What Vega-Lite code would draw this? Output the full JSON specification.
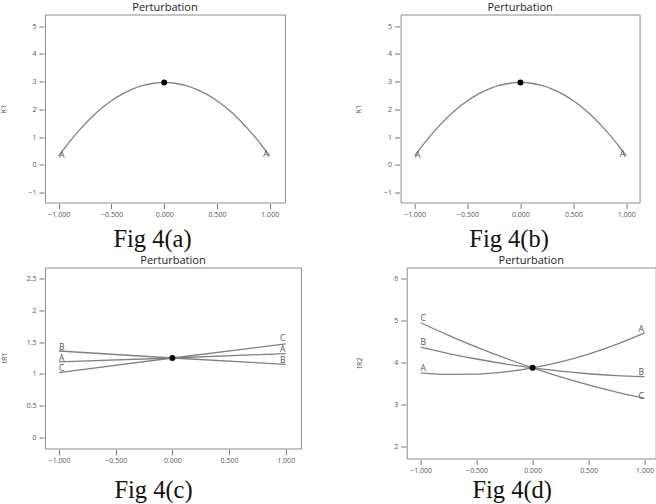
{
  "$schema": "https://vega.github.io/schema/vega-lite/v6.json",
  "padding": {"left": -2, "top": 0.5, "right": 0, "bottom": 0},
  "background": "white",
  "datasets": {
    "k1": [
      {"x": -1, "y": 0.32}, {"x": -0.9, "y": 0.82}, {"x": -0.8, "y": 1.27}, {"x": -0.7, "y": 1.67},
      {"x": -0.6, "y": 2.02}, {"x": -0.5, "y": 2.31}, {"x": -0.4, "y": 2.55}, {"x": -0.3, "y": 2.73},
      {"x": -0.2, "y": 2.86}, {"x": -0.1, "y": 2.94}, {"x": 0, "y": 2.97}, {"x": 0.1, "y": 2.94},
      {"x": 0.2, "y": 2.86}, {"x": 0.3, "y": 2.73}, {"x": 0.4, "y": 2.55}, {"x": 0.5, "y": 2.31},
      {"x": 0.6, "y": 2.02}, {"x": 0.7, "y": 1.67}, {"x": 0.8, "y": 1.27}, {"x": 0.9, "y": 0.82},
      {"x": 1, "y": 0.32}
    ],
    "k1dot": [{"x": 0, "y": 2.97}],
    "k1lab": [{"x": -0.97, "y": 0.35, "label": "A"}, {"x": 0.965, "y": 0.4, "label": "A"}],
    "c": [
      {"x": -1, "y": 1.19, "series": "A"}, {"x": 0, "y": 1.25, "series": "A"}, {"x": 1, "y": 1.32, "series": "A"},
      {"x": -1, "y": 1.36, "series": "B"}, {"x": 0, "y": 1.25, "series": "B"}, {"x": 1, "y": 1.15, "series": "B"},
      {"x": -1, "y": 1.02, "series": "C"}, {"x": 0, "y": 1.25, "series": "C"}, {"x": 1, "y": 1.47, "series": "C"}
    ],
    "cdot": [{"x": 0, "y": 1.25}],
    "clab": [
      {"x": -0.976, "y": 1.42, "label": "B"}, {"x": -0.976, "y": 1.245, "label": "A"}, {"x": -0.976, "y": 1.09, "label": "C"},
      {"x": 0.974, "y": 1.56, "label": "C"}, {"x": 0.974, "y": 1.395, "label": "A"}, {"x": 0.974, "y": 1.22, "label": "B"}
    ],
    "d": [
      {"x": -1, "y": 3.75, "series": "A"}, {"x": -0.75, "y": 3.714, "series": "A"}, {"x": -0.5, "y": 3.72, "series": "A"},
      {"x": -0.25, "y": 3.773, "series": "A"}, {"x": 0, "y": 3.87, "series": "A"}, {"x": 0.25, "y": 4.011, "series": "A"},
      {"x": 0.5, "y": 4.196, "series": "A"}, {"x": 0.75, "y": 4.426, "series": "A"}, {"x": 1, "y": 4.7, "series": "A"},
      {"x": -1, "y": 4.36, "series": "B"}, {"x": -0.75, "y": 4.21, "series": "B"}, {"x": -0.5, "y": 4.08, "series": "B"},
      {"x": -0.25, "y": 3.966, "series": "B"}, {"x": 0, "y": 3.87, "series": "B"}, {"x": 0.25, "y": 3.79, "series": "B"},
      {"x": 0.5, "y": 3.73, "series": "B"}, {"x": 0.75, "y": 3.686, "series": "B"}, {"x": 1, "y": 3.66, "series": "B"},
      {"x": -1, "y": 4.94, "series": "C"}, {"x": -0.75, "y": 4.64, "series": "C"}, {"x": -0.5, "y": 4.36, "series": "C"},
      {"x": -0.25, "y": 4.105, "series": "C"}, {"x": 0, "y": 3.87, "series": "C"}, {"x": 0.25, "y": 3.657, "series": "C"},
      {"x": 0.5, "y": 3.466, "series": "C"}, {"x": 0.75, "y": 3.297, "series": "C"}, {"x": 1, "y": 3.15, "series": "C"}
    ],
    "ddot": [{"x": 0, "y": 3.87}],
    "dlab": [
      {"x": -0.977, "y": 5.05, "label": "C"}, {"x": -0.977, "y": 4.48, "label": "B"}, {"x": -0.977, "y": 3.86, "label": "A"},
      {"x": 0.97, "y": 4.79, "label": "A"}, {"x": 0.97, "y": 3.76, "label": "B"}, {"x": 0.97, "y": 3.21, "label": "C"}
    ]
  },
  "spacing": 2,
  "vconcat": [
    {
      "spacing": 66.6,
      "hconcat": [
        {
          "width": 240, "height": 188,
          "title": "Perturbation",
          "encoding": {
            "x": {"field": "x", "type": "quantitative", "scale": {"domain": [-1.13, 1.145], "nice": false, "zero": false},
                  "axis": {"values": [-1, -0.5, 0, 0.5, 1], "format": ".3f", "title": "Fig 4(a)", "titleX": 107, "titleY": 35.5}},
            "y": {"field": "y", "type": "quantitative", "scale": {"domain": [-1.36, 5.42], "nice": false, "zero": false},
                  "axis": {"values": [-1, 0, 1, 2, 3, 4, 5], "format": "~g", "title": "K1", "titleX": -41, "titleY": 94}}
          },
          "layer": [
            {"data": {"name": "k1"}, "mark": {"type": "line", "interpolate": "monotone", "color": "#808080", "strokeWidth": 1.3}},
            {"data": {"name": "k1dot"}, "mark": {"type": "point", "filled": true, "color": "#000", "size": 36, "opacity": 1}},
            {"data": {"name": "k1lab"}, "mark": {"type": "text", "fontSize": 8.5, "color": "#555"}, "encoding": {"text": {"field": "label"}}}
          ]
        },
        {
          "width": 239, "height": 188,
          "title": "Perturbation",
          "encoding": {
            "x": {"field": "x", "type": "quantitative", "scale": {"domain": [-1.132, 1.126], "nice": false, "zero": false},
                  "axis": {"values": [-1, -0.5, 0, 0.5, 1], "format": ".3f", "title": "Fig 4(b)", "titleX": 108, "titleY": 35.5}},
            "y": {"field": "y", "type": "quantitative", "scale": {"domain": [-1.36, 5.42], "nice": false, "zero": false},
                  "axis": {"values": [-1, 0, 1, 2, 3, 4, 5], "format": "~g", "title": "K1", "titleX": -41.6, "titleY": 94}}
          },
          "layer": [
            {"data": {"name": "k1"}, "mark": {"type": "line", "interpolate": "monotone", "color": "#808080", "strokeWidth": 1.3}},
            {"data": {"name": "k1dot"}, "mark": {"type": "point", "filled": true, "color": "#000", "size": 36, "opacity": 1}},
            {"data": {"name": "k1lab"}, "mark": {"type": "text", "fontSize": 8.5, "color": "#555"}, "encoding": {"text": {"field": "label"}}}
          ]
        }
      ]
    },
    {
      "spacing": 51.7,
      "hconcat": [
        {
          "width": 256, "height": 181,
          "title": "Perturbation",
          "encoding": {
            "x": {"field": "x", "type": "quantitative", "scale": {"domain": [-1.124, 1.135], "nice": false, "zero": false},
                  "axis": {"values": [-1, -0.5, 0, 0.5, 1], "format": ".3f", "title": "Fig 4(c)", "titleX": 108, "titleY": 40.8}},
            "y": {"field": "y", "type": "quantitative", "scale": {"domain": [-0.17, 2.67], "nice": false, "zero": false},
                  "axis": {"values": [0, 0.5, 1, 1.5, 2, 2.5], "format": "~g", "title": "tR1", "titleX": -39.5, "titleY": 90}}
          },
          "layer": [
            {"data": {"name": "c"}, "mark": {"type": "line", "color": "#808080", "strokeWidth": 1.3}, "encoding": {"detail": {"field": "series"}}},
            {"data": {"name": "cdot"}, "mark": {"type": "point", "filled": true, "color": "#000", "size": 36, "opacity": 1}},
            {"data": {"name": "clab"}, "mark": {"type": "text", "fontSize": 8.5, "color": "#555"}, "encoding": {"text": {"field": "label"}}}
          ]
        },
        {
          "width": 249, "height": 191,
          "title": "Perturbation",
          "encoding": {
            "x": {"field": "x", "type": "quantitative", "scale": {"domain": [-1.125, 1.1], "nice": false, "zero": false},
                  "axis": {"values": [-1, -0.5, 0, 0.5, 1], "format": ".3f", "title": "Fig 4(d)", "titleX": 105, "titleY": 31}},
            "y": {"field": "y", "type": "quantitative", "scale": {"domain": [1.72, 6.25], "nice": false, "zero": false},
                  "axis": {"values": [2, 3, 4, 5, 6], "format": "~g", "title": "tR2", "titleX": -46.7, "titleY": 95}}
          },
          "layer": [
            {"data": {"name": "d"}, "mark": {"type": "line", "interpolate": "monotone", "color": "#808080", "strokeWidth": 1.3}, "encoding": {"detail": {"field": "series"}}},
            {"data": {"name": "ddot"}, "mark": {"type": "point", "filled": true, "color": "#000", "size": 36, "opacity": 1}},
            {"data": {"name": "dlab"}, "mark": {"type": "text", "fontSize": 8.5, "color": "#555"}, "encoding": {"text": {"field": "label"}}}
          ]
        }
      ]
    }
  ],
  "config": {
    "font": "Open Sans",
    "view": {"stroke": "#8c8c8c", "strokeWidth": 1},
    "axis": {"grid": false, "domain": false, "tickColor": "#777", "tickSize": 5, "labelFontSize": 7, "labelColor": "#555", "labelFont": "Open Sans"},
    "axisX": {"offset": 1, "labelPadding": 2, "titleFont": "Liberation Serif", "titleFontSize": 24.5, "titleFontWeight": "normal", "titleColor": "#111", "titleBaseline": "middle", "titleAlign": "center"},
    "axisY": {"offset": 1, "tickSize": 5, "labelPadding": 3, "titleFont": "Open Sans", "titleFontSize": 7, "titleFontWeight": "normal", "titleColor": "#444", "titleBaseline": "middle", "titleAlign": "center"},
    "title": {"fontSize": 11, "fontWeight": "normal", "color": "#222", "offset": 2, "font": "Open Sans"},
    "text": {"font": "Open Sans"}
  }
}
